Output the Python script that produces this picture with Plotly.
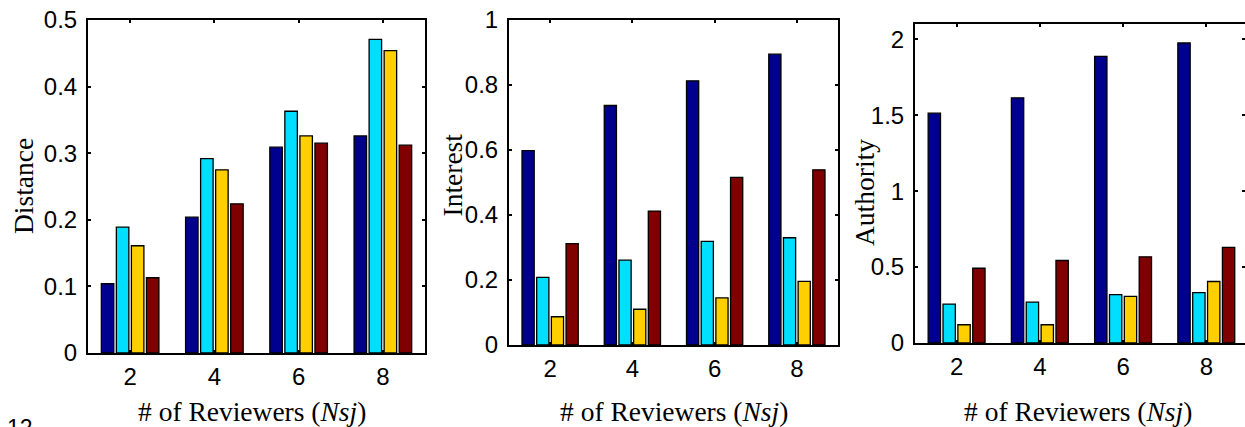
import plotly.graph_objects as go

# ---------------- data ----------------
reviewers = [2, 4, 6, 8]
x_ticks = [2, 4, 6, 8]

dist_s1 = [0.104, 0.204, 0.309, 0.326]
dist_s2 = [0.189, 0.292, 0.363, 0.471]
dist_s3 = [0.161, 0.275, 0.326, 0.454]
dist_s4 = [0.113, 0.224, 0.315, 0.312]

int_s1 = [0.598, 0.737, 0.813, 0.895]
int_s2 = [0.208, 0.261, 0.319, 0.330]
int_s3 = [0.087, 0.110, 0.145, 0.196]
int_s4 = [0.312, 0.412, 0.516, 0.539]

auth_s1 = [1.513, 1.614, 1.887, 1.975]
auth_s2 = [0.256, 0.269, 0.319, 0.331]
auth_s3 = [0.120, 0.120, 0.307, 0.405]
auth_s4 = [0.492, 0.543, 0.567, 0.629]

dist_ticks = [0, 0.1, 0.2, 0.3, 0.4, 0.5]
int_ticks = [0, 0.2, 0.4, 0.6, 0.8, 1]
auth_ticks = [0, 0.5, 1, 1.5, 2]

y_titles = ["Distance", "Interest", "Authority"]
x_title = "# of Reviewers (<i>Nsj</i>)"

colors = ["#00008F", "#00DFFF", "#FFCF00", "#800000"]

W, H = 1245, 427

panels = [
    dict(series=[dist_s1, dist_s2, dist_s3, dist_s4], ticks=dist_ticks, yr=[0, 0.5], xr=[1, 9],
         px=(88, 425), py=(20, 353)),
    dict(series=[int_s1, int_s2, int_s3, int_s4], ticks=int_ticks, yr=[0, 1], xr=[1, 9],
         px=(509, 838), py=(20, 345)),
    dict(series=[auth_s1, auth_s2, auth_s3, auth_s4], ticks=auth_ticks, yr=[0, 2.1], xr=[1, 8.93],
         px=(915, 1245), py=(24, 343)),
]

fig = go.Figure()

tickfont = dict(family="Liberation Sans, Arial, sans-serif", size=24, color="black")
titlefont = dict(family="Liberation Serif, Times New Roman, serif", size=27.5, color="black")

for i, p in enumerate(panels):
    sfx = "" if i == 0 else str(i + 1)
    for s, col in zip(p["series"], colors):
        fig.add_trace(go.Bar(
            x=reviewers, y=s, xaxis="x" + sfx, yaxis="y" + sfx,
            marker=dict(color=col, line=dict(color="black", width=1.3)),
            showlegend=False,
        ))
    common = dict(showline=True, linecolor="black", linewidth=2, mirror="ticks",
                  ticks="inside", ticklen=3, tickwidth=1.5, tickcolor="black",
                  showgrid=False, zeroline=False, tickfont=tickfont, automargin=False)
    fig.layout["xaxis" + sfx] = dict(
        domain=[p["px"][0] / W, p["px"][1] / W], range=p["xr"],
        tickvals=x_ticks, ticktext=[str(v) for v in x_ticks],
        anchor="y" + sfx, ticklabelstandoff=1, **common)
    fig.layout["yaxis" + sfx] = dict(
        domain=[(H - p["py"][1]) / H, (H - p["py"][0]) / H], range=p["yr"],
        tickvals=p["ticks"], ticktext=[("%g" % v) for v in p["ticks"]],
        anchor="x" + sfx, ticklabelstandoff=4, **common)

annotations = []
ytitle_pos = [(23, 186), (451.5, 175), (864.5, 192.5)]
for t, (xx, yy) in zip(y_titles, ytitle_pos):
    annotations.append(dict(text=t, x=xx / W, y=(H - yy) / H, xref="paper", yref="paper",
                            xanchor="center", yanchor="middle", textangle=-90,
                            showarrow=False, font=titlefont))
for xx in [252, 674, 1077.5]:
    annotations.append(dict(text=x_title, x=xx / W, y=(H - 411) / H, xref="paper", yref="paper",
                            xanchor="center", yanchor="middle", showarrow=False, font=titlefont))
annotations.append(dict(text="12", x=5 / W, y=(H - 413) / H, xref="paper", yref="paper",
                        xanchor="left", yanchor="top", showarrow=False,
                        font=dict(family="Liberation Sans, Arial, sans-serif", size=23, color="black")))

fig.update_layout(
    template="none",
    width=W, height=H,
    margin=dict(l=0, r=0, t=0, b=0, pad=0),
    paper_bgcolor="white", plot_bgcolor="white",
    barmode="group", bargap=0.286, bargroupgap=0.17,
    annotations=annotations,
    showlegend=False,
)

fig.write_html("out.html")
